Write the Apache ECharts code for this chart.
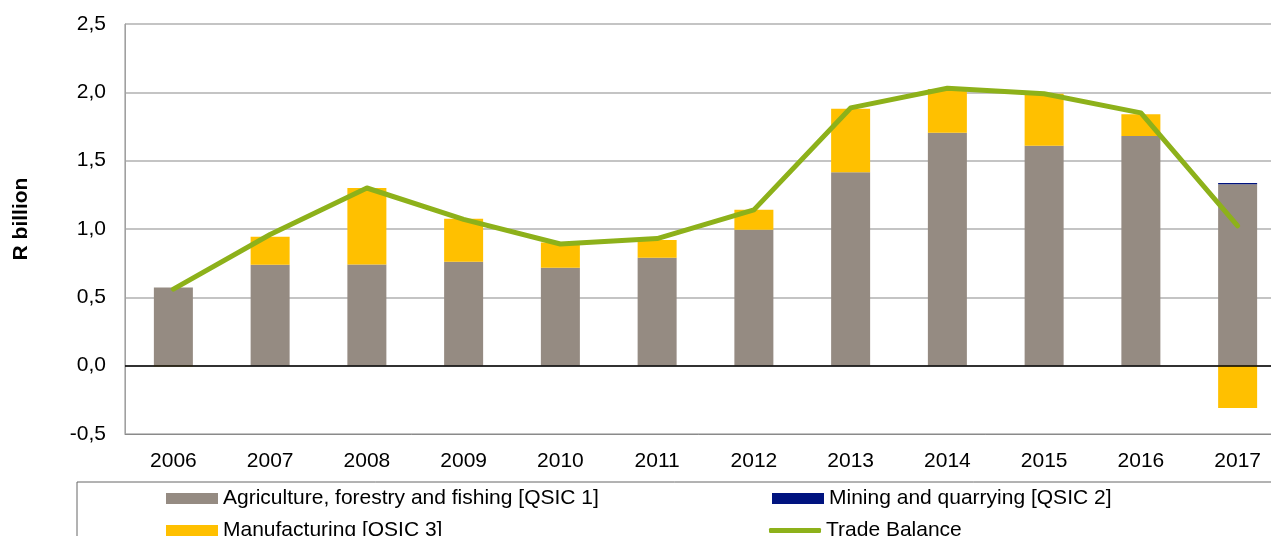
<!DOCTYPE html>
<html>
<head>
    <meta charset="utf-8">
    <title>Trade balance by sector</title>
    <script src="https://cdn.jsdelivr.net/npm/echarts@6/dist/echarts.min.js"></script>
</head>
<body style="margin:0;background:#fff">
    <div id="main" style="width:1271px;height:536px;"></div>
    <script type="text/javascript">
        // data (R billion)
        var years = ['2006', '2007', '2008', '2009', '2010', '2011', '2012', '2013', '2014', '2015', '2016', '2017'];
        var agriculture = [0.572, 0.738, 0.74, 0.76, 0.716, 0.79, 0.994, 1.415, 1.705, 1.61, 1.68, 1.328];
        var mining = [0, 0, 0, 0, 0, 0, 0, 0, 0, 0, 0, 0.008];
        var manufacturing = [-0.005, 0.205, 0.56, 0.315, 0.185, 0.13, 0.146, 0.465, 0.32, 0.38, 0.16, -0.31];
        var tradeBalance = [0.56, 0.96, 1.30, 1.07, 0.89, 0.93, 1.14, 1.886, 2.03, 1.99, 1.85, 1.023];
        var seriesNames = ['Agriculture, forestry and fishing [QSIC 1]', 'Mining and quarrying [QSIC 2]', 'Manufacturing [QSIC 3]', 'Trade Balance'];

        var font = 'Liberation Sans, Arial, sans-serif';
        var myChart = echarts.init(document.getElementById('main'));

        // one legend per entry so each can sit where the original has it
        function legendItem(name, left, top, icon, h) {
            return {
                left: left, top: top,
                itemWidth: 52, itemHeight: h,
                textStyle: { fontSize: 21, color: '#000', fontFamily: font },
                data: [{ name: name, icon: icon }]
            };
        }

        myChart.setOption({
            animation: false,
            textStyle: { fontFamily: font },
            grid: {
                left: 125, top: 24, bottom: 102, right: -15,
                outerBoundsMode: 'none',
                show: true, borderColor: '#8a8a8a', borderWidth: 1
            },
            legend: [
                legendItem(seriesNames[0], 161, 483, 'rect', 11),
                legendItem(seriesNames[2], 161, 515, 'rect', 11),
                legendItem(seriesNames[1], 767, 483, 'rect', 11),
                legendItem(seriesNames[3], 764, 515, 'roundRect', 5)
            ],
            graphic: [{
                type: 'rect',
                shape: { x: 77, y: 482, width: 1300, height: 100 },
                style: { fill: 'none', stroke: '#666', lineWidth: 1 },
                silent: true
            }, {
                type: 'text',
                x: 21, y: 219,
                rotation: Math.PI / 2,
                style: {
                    text: 'R billion', fill: '#000',
                    font: 'bold 21px ' + font,
                    align: 'center', verticalAlign: 'middle'
                }
            }],
            xAxis: {
                type: 'category',
                data: years,
                axisLine: { onZero: false, lineStyle: { color: '#8a8a8a' } },
                axisTick: { show: false },
                axisLabel: { fontSize: 21, color: '#000', margin: 17 }
            },
            yAxis: {
                type: 'value',
                min: -0.5, max: 2.5, interval: 0.5,
                axisLine: { show: true, lineStyle: { color: '#a0a0a0' } },
                axisTick: { show: false },
                splitLine: { lineStyle: { color: '#c4c4c4', width: 2 } },
                axisLabel: {
                    fontSize: 21, color: '#000', margin: 19,
                    formatter: function (v) { return v.toFixed(1).replace('.', ','); }
                }
            },
            series: [{
                name: seriesNames[0],
                type: 'bar', stack: 'total', barWidth: 39,
                itemStyle: { color: '#958b82' },
                data: agriculture,
                markLine: {
                    silent: true, symbol: 'none', label: { show: false },
                    lineStyle: { color: '#000', width: 1.5, type: 'solid' },
                    data: [{ yAxis: 0 }]
                }
            }, {
                name: seriesNames[1],
                type: 'bar', stack: 'total', barWidth: 39,
                itemStyle: { color: '#00137f' },
                data: mining
            }, {
                name: seriesNames[2],
                type: 'bar', stack: 'total', barWidth: 39,
                itemStyle: { color: '#ffc000' },
                data: manufacturing
            }, {
                name: seriesNames[3],
                type: 'line',
                symbol: 'none',
                z: 5,
                lineStyle: { color: '#8db11a', width: 5, join: 'round', cap: 'round' },
                itemStyle: { color: '#8db11a' },
                data: tradeBalance
            }]
        });
    </script>
</body>
</html>
